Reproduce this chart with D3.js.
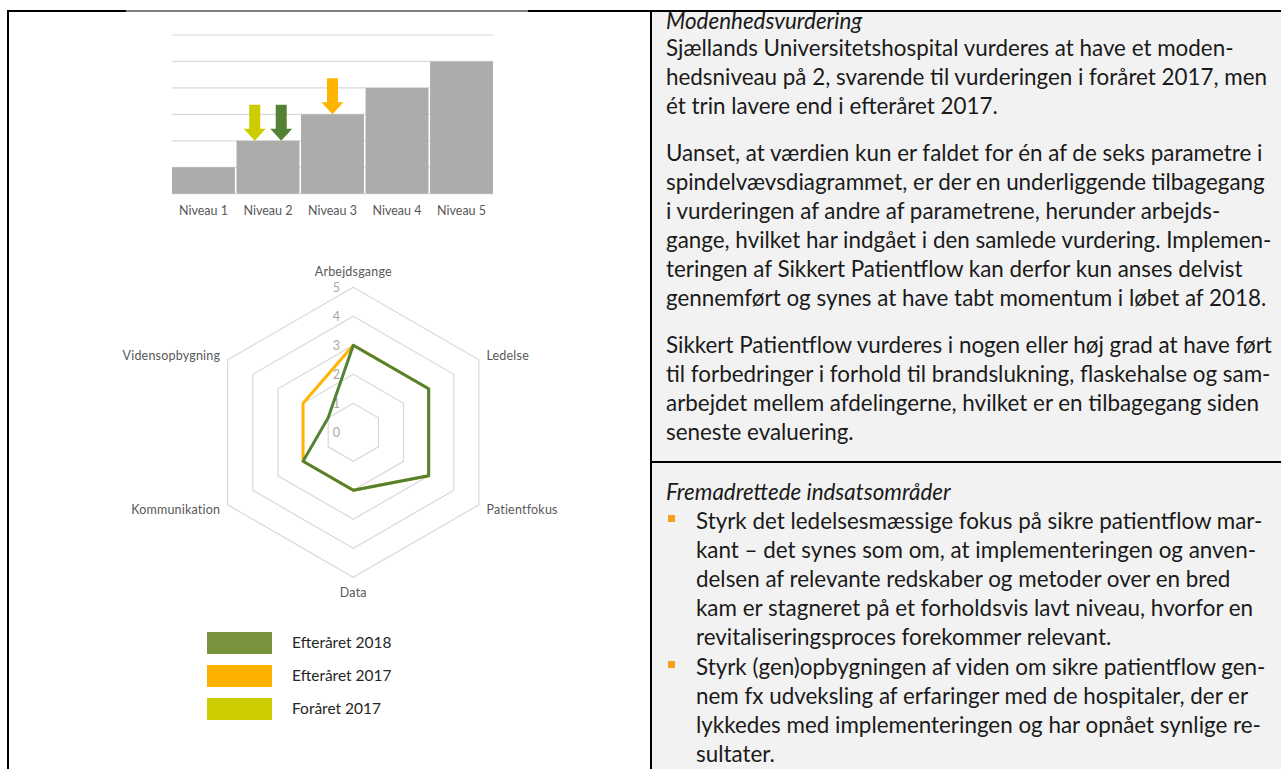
<!DOCTYPE html>
<html>
<head>
<meta charset="utf-8">
<script src="https://cdn.jsdelivr.net/npm/d3@7"></script>
<style>
    html, body { margin: 0; padding: 0; background: #fff; }
    svg { display: block; font-family: Lato, "Open Sans", sans-serif; }
</style>
</head>
<body>
<div id="page"></div>
<script>
// bar chart: maturity levels
var levels = ['Niveau 1', 'Niveau 2', 'Niveau 3', 'Niveau 4', 'Niveau 5'];
var levelValues = [1, 2, 3, 4, 5];
var levelTicks = [0, 1, 2, 3, 4, 5, 6];

// assessments (arrows + legend)
var seriesNames = ['Efteråret 2018', 'Efteråret 2017', 'Foråret 2017'];
var seriesLevel = [2, 3, 2];
var arrowOrder = ['Foråret 2017', 'Efteråret 2017', 'Efteråret 2018'];

// radar chart
var radarCategories = ['Arbejdsgange', 'Ledelse', 'Patientfokus', 'Data', 'Kommunikation', 'Vidensopbygning'];
var radarEfteraar2018 = [3, 3, 3, 2, 2, 1];
var radarEfteraar2017 = [3, 3, 3, 2, 2, 2];
var radarTicks = [0, 1, 2, 3, 4, 5];

// right hand text panel
var heading1 = 'Modenhedsvurdering';
var para1 = ['Sjællands Universitetshospital vurderes at have et moden-',
    'hedsniveau på 2, svarende til vurderingen i foråret 2017, men',
    'ét trin lavere end i efteråret 2017.'];
var para2 = ['Uanset, at værdien kun er faldet for én af de seks parametre i',
    'spindelvævsdiagrammet, er der en underliggende tilbagegang',
    'i vurderingen af andre af parametrene, herunder arbejds-',
    'gange, hvilket har indgået i den samlede vurdering. Implemen-',
    'teringen af Sikkert Patientflow kan derfor kun anses delvist',
    'gennemført og synes at have tabt momentum i løbet af 2018.'];
var para3 = ['Sikkert Patientflow vurderes i nogen eller høj grad at have ført',
    'til forbedringer i forhold til brandslukning, flaskehalse og sam-',
    'arbejdet mellem afdelingerne, hvilket er en tilbagegang siden',
    'seneste evaluering.'];
var heading2 = 'Fremadrettede indsatsområder';
var bullet1 = ['Styrk det ledelsesmæssige fokus på sikre patientflow mar-',
    'kant – det synes som om, at implementeringen og anven-',
    'delsen af relevante redskaber og metoder over en bred',
    'kam er stagneret på et forholdsvis lavt niveau, hvorfor en',
    'revitaliseringsproces forekommer relevant.'];
var bullet2 = ['Styrk (gen)opbygningen af viden om sikre patientflow gen-',
    'nem fx udveksling af erfaringer med de hospitaler, der er',
    'lykkedes med implementeringen og har opnået synlige re-',
    'sultater.'];

var colors = {
    'Efteråret 2018': '#548235',
    'Efteråret 2017': '#FFB400',
    'Foråret 2017': '#CCCC00'
};
var legendColors = {
    'Efteråret 2018': '#77933C',
    'Efteråret 2017': '#FFB000',
    'Foråret 2017': '#CCCC00'
};

var width = 1281, height = 769;
var svg = d3.select('#page').append('svg')
    .attr('width', width)
    .attr('height', height);

// ---------- frame ----------
var panelX = 652, dividerY = 462;
svg.append('rect')
    .attr('x', panelX).attr('y', 12)
    .attr('width', width - panelX).attr('height', height - 12)
    .attr('fill', '#F2F2F2');

var frame = svg.append('g').attr('stroke', '#000');
frame.append('line').attr('x1', 7).attr('x2', 126).attr('y1', 11).attr('y2', 11).attr('stroke-width', 2);
frame.append('line').attr('x1', 126).attr('x2', 528).attr('y1', 11).attr('y2', 11).attr('stroke-width', 1);
frame.append('line').attr('x1', 528).attr('x2', width).attr('y1', 11).attr('y2', 11).attr('stroke-width', 2);
frame.append('line').attr('x1', 8).attr('x2', 8).attr('y1', 10).attr('y2', height).attr('stroke-width', 2);
frame.append('line').attr('x1', panelX - 1).attr('x2', panelX - 1).attr('y1', 10).attr('y2', height).attr('stroke-width', 2);
frame.append('line').attr('x1', panelX - 1).attr('x2', width).attr('y1', dividerY).attr('y2', dividerY).attr('stroke-width', 2);

// ---------- bar chart ----------
var x = d3.scaleBand()
    .domain(levels)
    .range([172, 493])
    .paddingInner(0.025);

var y = d3.scaleLinear()
    .domain([0, 6])
    .range([193.7, 35]);

var bar = svg.append('g');

bar.append('g')
    .selectAll('line')
    .data(levelTicks)
    .enter().append('line')
    .attr('x1', 172).attr('x2', 493)
    .attr('y1', function(d) { return y(d); })
    .attr('y2', function(d) { return y(d); })
    .attr('stroke', '#D9D9D9')
    .attr('stroke-width', 1.2);

bar.append('g')
    .selectAll('rect')
    .data(levels)
    .enter().append('rect')
    .attr('x', function(d) { return x(d); })
    .attr('width', x.bandwidth())
    .attr('y', function(d, i) { return y(levelValues[i]); })
    .attr('height', function(d, i) { return y(0) - y(levelValues[i]); })
    .attr('fill', '#AEABAB');

var xAxis = bar.append('g')
    .attr('transform', 'translate(0,' + y(0) + ')')
    .call(d3.axisBottom(x).tickSize(0).tickPadding(12));
xAxis.select('.domain').remove();
xAxis.selectAll('text')
    .attr('font-family', 'Lato, sans-serif')
    .attr('font-size', 12.5)
    .attr('fill', '#595959');

// arrows pointing at each assessment level
var arrows = arrowOrder.map(function(name) {
    return { name: name, level: seriesLevel[seriesNames.indexOf(name)] };
});
arrows.forEach(function(a) {
    var same = arrows.filter(function(b) { return b.level === a.level; });
    a.offset = (same.indexOf(a) - (same.length - 1) / 2) * 26.5;
});

bar.append('g')
    .selectAll('path')
    .data(arrows)
    .enter().append('path')
    .attr('d', function(d) {
        var cx = x(levels[d.level - 1]) + x.bandwidth() / 2 + d.offset;
        var tip = y(d.level);
        var top = tip - 36, neck = tip - 12;
        return 'M' + (cx - 5.5) + ',' + top + 'L' + (cx + 5.5) + ',' + top +
            'L' + (cx + 5.5) + ',' + neck + 'L' + (cx + 11) + ',' + neck +
            'L' + cx + ',' + tip + 'L' + (cx - 11) + ',' + neck +
            'L' + (cx - 5.5) + ',' + neck + 'Z';
    })
    .attr('fill', function(d) { return colors[d.name]; });

// ---------- radar chart ----------
var cx = 353.3, cy = 432.3;
var r = d3.scaleLinear().domain([0, 5]).range([0, 145]);
var angle = function(i) { return i * 2 * Math.PI / radarCategories.length; };
var pt = function(i, v) {
    return [cx + r(v) * Math.sin(angle(i)), cy - r(v) * Math.cos(angle(i))];
};

var radar = svg.append('g');

radar.append('g')
    .selectAll('path')
    .data(radarTicks.filter(function(t) { return t > 0; }))
    .enter().append('path')
    .attr('d', function(t) {
        return d3.line()(radarCategories.map(function(c, i) { return pt(i, t); })) + 'Z';
    })
    .attr('fill', 'none')
    .attr('stroke', '#D9D9D9')
    .attr('stroke-width', 1.2);

radar.append('g')
    .selectAll('text')
    .data(radarTicks)
    .enter().append('text')
    .attr('x', cx - 17)
    .attr('y', function(t) { return cy - r(t); })
    .attr('dy', '0.35em')
    .attr('text-anchor', 'middle')
    .attr('font-size', 12.5)
    .attr('fill', '#A6A6A6')
    .text(function(t) { return t; });

var radarSeries = [
    { name: 'Efteråret 2017', values: radarEfteraar2017 },
    { name: 'Efteråret 2018', values: radarEfteraar2018 }
];
radar.append('g')
    .selectAll('path')
    .data(radarSeries)
    .enter().append('path')
    .attr('d', function(s) {
        return d3.line()(s.values.map(function(v, i) { return pt(i, v); })) + 'Z';
    })
    .attr('fill', 'none')
    .attr('stroke', function(s) { return colors[s.name]; })
    .attr('stroke-width', 3)
    .attr('stroke-linejoin', 'round');

radar.append('g')
    .selectAll('text')
    .data(radarCategories)
    .enter().append('text')
    .attr('x', function(c, i) { return pt(i, 5.3)[0]; })
    .attr('y', function(c, i) { return pt(i, 5.3)[1]; })
    .attr('dy', function(c, i) {
        var a = Math.cos(angle(i));
        return a > 0.99 ? '-0.2em' : (a < -0.99 ? '0.85em' : '0.35em');
    })
    .attr('text-anchor', function(c, i) {
        var s = Math.sin(angle(i));
        return s > 0.1 ? 'start' : (s < -0.1 ? 'end' : 'middle');
    })
    .attr('font-size', 12.5)
    .attr('letter-spacing', 0.2)
    .attr('fill', '#595959')
    .text(function(c) { return c; });

// ---------- legend ----------
var legend = svg.append('g')
    .selectAll('g')
    .data(seriesNames)
    .enter().append('g')
    .attr('transform', function(d, i) { return 'translate(207,' + (632 + i * 33) + ')'; });

legend.append('rect')
    .attr('width', 65).attr('height', 22)
    .attr('fill', function(d) { return legendColors[d]; });
legend.append('text')
    .attr('x', 85).attr('y', 11).attr('dy', '0.35em')
    .attr('font-size', 15.5)
    .attr('fill', '#262626')
    .text(function(d) { return d; });

// ---------- text panel ----------
var lineH = 29, textX = 666;
var blocks = [
    { lines: [heading1], y: 21, italic: true },
    { lines: para1, y: 48 },
    { lines: para2, y: 153 },
    { lines: para3, y: 345 },
    { lines: [heading2], y: 492, italic: true },
    { lines: bullet1, y: 521, bullet: true },
    { lines: bullet2, y: 667, bullet: true }
];

var panel = svg.append('g')
    .attr('font-size', 22.4)
    .attr('fill', '#1a1a1a');

blocks.forEach(function(b) {
    var tx = b.bullet ? 696 : textX;
    b.lines.forEach(function(line, i) {
        panel.append('text')
            .attr('x', tx)
            .attr('y', b.y + i * lineH)
            .attr('dy', '0.35em')
            .attr('font-style', b.italic ? 'italic' : 'normal')
            .text(line);
    });
    if (b.bullet) {
        panel.append('rect')
            .attr('x', 668).attr('y', b.y - 6)
            .attr('width', 7).attr('height', 7)
            .attr('fill', '#F5A01A');
    }
});
</script>
</body>
</html>
